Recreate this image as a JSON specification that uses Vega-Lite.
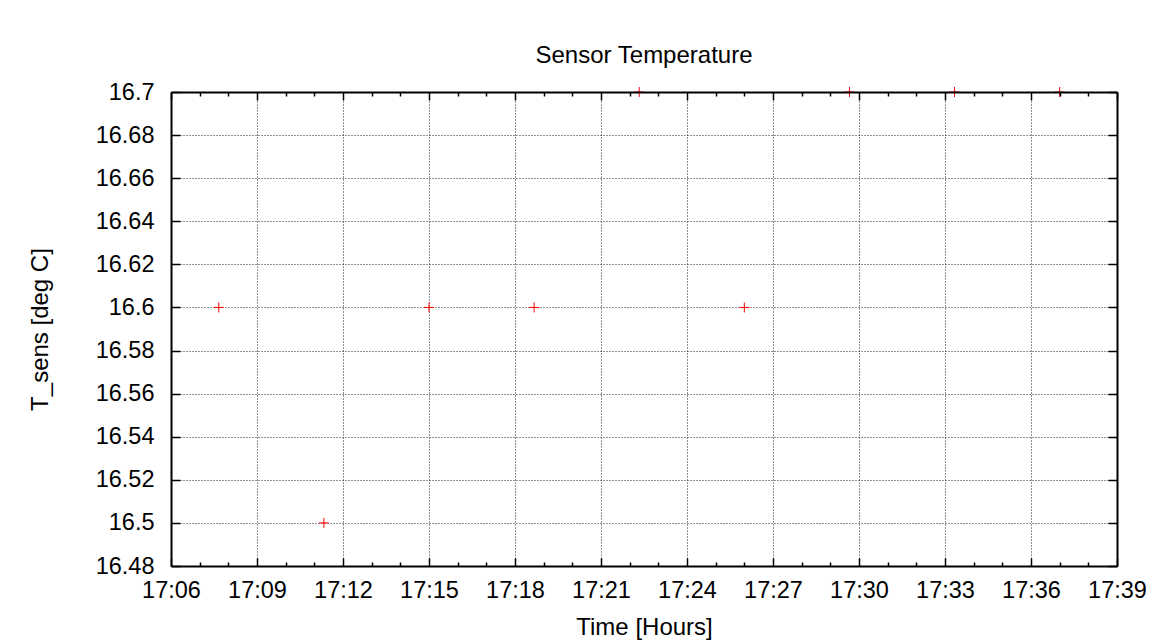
{
  "$schema": "https://vega.github.io/schema/vega-lite/v6.json",
  "autosize": "none",
  "width": 946,
  "height": 474,
  "padding": {"left": 171, "top": 92, "right": 50, "bottom": 77},
  "background": "white",
  "title": {
    "text": "Sensor Temperature",
    "font": "Liberation Sans",
    "fontSize": 24,
    "fontWeight": "normal",
    "color": "black",
    "frame": "group",
    "anchor": "middle",
    "baseline": "alphabetic",
    "offset": -7
  },
  "config": {
    "view": {"stroke": null},
    "axis": {
      "labelFont": "Liberation Sans",
      "titleFont": "Liberation Sans",
      "labelFontSize": 23.5,
      "titleFontSize": 24,
      "titleFontWeight": "normal",
      "labelColor": "black",
      "titleColor": "black",
      "domainColor": "black",
      "domainWidth": 2,
      "tickColor": "black",
      "tickWidth": 1.5,
      "gridColor": "#000",
      "gridDash": [1, 2],
      "gridWidth": 1
    }
  },
  "data": {
    "values": [
      {"time": "2024-01-01 17:07:40", "temp": 16.6},
      {"time": "2024-01-01 17:11:20", "temp": 16.5},
      {"time": "2024-01-01 17:15:00", "temp": 16.6},
      {"time": "2024-01-01 17:18:40", "temp": 16.6},
      {"time": "2024-01-01 17:22:20", "temp": 16.7},
      {"time": "2024-01-01 17:26:00", "temp": 16.6},
      {"time": "2024-01-01 17:29:40", "temp": 16.7},
      {"time": "2024-01-01 17:33:20", "temp": 16.7},
      {"time": "2024-01-01 17:37:00", "temp": 16.7}
    ]
  },
  "resolve": {"axis": {"x": "independent", "y": "independent"}},
  "layer": [
    {
      "mark": {"type": "point", "shape": "M-1,0H1M0,-1V1", "filled": false, "stroke": "#ff0000", "strokeWidth": 1, "size": 100, "opacity": 1, "clip": false},
      "encoding": {
        "x": {
          "field": "time", "type": "temporal",
          "scale": {"domain": [
            {"year": 2024, "month": 1, "date": 1, "hours": 17, "minutes": 6},
            {"year": 2024, "month": 1, "date": 1, "hours": 17, "minutes": 39}
          ], "nice": false},
          "axis": {
            "orient": "bottom",
            "title": "Time [Hours]",
            "titlePadding": 10,
            "values": [
              {"year": 2024, "month": 1, "date": 1, "hours": 17, "minutes": 6},
              {"year": 2024, "month": 1, "date": 1, "hours": 17, "minutes": 7},
              {"year": 2024, "month": 1, "date": 1, "hours": 17, "minutes": 8},
              {"year": 2024, "month": 1, "date": 1, "hours": 17, "minutes": 9},
              {"year": 2024, "month": 1, "date": 1, "hours": 17, "minutes": 10},
              {"year": 2024, "month": 1, "date": 1, "hours": 17, "minutes": 11},
              {"year": 2024, "month": 1, "date": 1, "hours": 17, "minutes": 12},
              {"year": 2024, "month": 1, "date": 1, "hours": 17, "minutes": 13},
              {"year": 2024, "month": 1, "date": 1, "hours": 17, "minutes": 14},
              {"year": 2024, "month": 1, "date": 1, "hours": 17, "minutes": 15},
              {"year": 2024, "month": 1, "date": 1, "hours": 17, "minutes": 16},
              {"year": 2024, "month": 1, "date": 1, "hours": 17, "minutes": 17},
              {"year": 2024, "month": 1, "date": 1, "hours": 17, "minutes": 18},
              {"year": 2024, "month": 1, "date": 1, "hours": 17, "minutes": 19},
              {"year": 2024, "month": 1, "date": 1, "hours": 17, "minutes": 20},
              {"year": 2024, "month": 1, "date": 1, "hours": 17, "minutes": 21},
              {"year": 2024, "month": 1, "date": 1, "hours": 17, "minutes": 22},
              {"year": 2024, "month": 1, "date": 1, "hours": 17, "minutes": 23},
              {"year": 2024, "month": 1, "date": 1, "hours": 17, "minutes": 24},
              {"year": 2024, "month": 1, "date": 1, "hours": 17, "minutes": 25},
              {"year": 2024, "month": 1, "date": 1, "hours": 17, "minutes": 26},
              {"year": 2024, "month": 1, "date": 1, "hours": 17, "minutes": 27},
              {"year": 2024, "month": 1, "date": 1, "hours": 17, "minutes": 28},
              {"year": 2024, "month": 1, "date": 1, "hours": 17, "minutes": 29},
              {"year": 2024, "month": 1, "date": 1, "hours": 17, "minutes": 30},
              {"year": 2024, "month": 1, "date": 1, "hours": 17, "minutes": 31},
              {"year": 2024, "month": 1, "date": 1, "hours": 17, "minutes": 32},
              {"year": 2024, "month": 1, "date": 1, "hours": 17, "minutes": 33},
              {"year": 2024, "month": 1, "date": 1, "hours": 17, "minutes": 34},
              {"year": 2024, "month": 1, "date": 1, "hours": 17, "minutes": 35},
              {"year": 2024, "month": 1, "date": 1, "hours": 17, "minutes": 36},
              {"year": 2024, "month": 1, "date": 1, "hours": 17, "minutes": 37},
              {"year": 2024, "month": 1, "date": 1, "hours": 17, "minutes": 38},
              {"year": 2024, "month": 1, "date": 1, "hours": 17, "minutes": 39}
            ],
            "labelExpr": "minutes(datum.value) % 3 == 0 ? timeFormat(datum.value, '%H:%M') : ''",
            "labelPadding": 20,
            "labelOverlap": false,
            "labelFlush": false,
            "tickSize": {"condition": {"test": "minutes(datum.value) % 3 == 0", "value": -8}, "value": -4},
            "grid": true,
            "gridOpacity": {"condition": {"test": "minutes(datum.value) % 3 == 0 && minutes(datum.value) != 6 && minutes(datum.value) != 39", "value": 0.85}, "value": 0},
            "zindex": 0
          }
        },
        "y": {
          "field": "temp", "type": "quantitative",
          "scale": {"domain": [16.48, 16.7], "nice": false, "zero": false},
          "axis": {
            "orient": "left",
            "title": "T_sens [deg C]",
            "titlePadding": 43,
            "values": [16.48, 16.5, 16.52, 16.54, 16.56, 16.58, 16.6, 16.62, 16.64, 16.66, 16.68, 16.7],
            "format": ".2~f",
            "labelPadding": 26,
            "labelOverlap": false,
            "labelFlush": false,
            "tickSize": -9,
            "grid": true,
            "gridOpacity": {"condition": {"test": "datum.value > 16.485 && datum.value < 16.695", "value": 0.85}, "value": 0},
            "zindex": 0
          }
        }
      }
    },
    {
      "mark": {"type": "point", "opacity": 0},
      "encoding": {
        "x": {
          "field": "time", "type": "temporal",
          "axis": {
            "orient": "top",
            "title": null,
            "labels": false,
            "grid": false,
            "values": [
              {"year": 2024, "month": 1, "date": 1, "hours": 17, "minutes": 6},
              {"year": 2024, "month": 1, "date": 1, "hours": 17, "minutes": 7},
              {"year": 2024, "month": 1, "date": 1, "hours": 17, "minutes": 8},
              {"year": 2024, "month": 1, "date": 1, "hours": 17, "minutes": 9},
              {"year": 2024, "month": 1, "date": 1, "hours": 17, "minutes": 10},
              {"year": 2024, "month": 1, "date": 1, "hours": 17, "minutes": 11},
              {"year": 2024, "month": 1, "date": 1, "hours": 17, "minutes": 12},
              {"year": 2024, "month": 1, "date": 1, "hours": 17, "minutes": 13},
              {"year": 2024, "month": 1, "date": 1, "hours": 17, "minutes": 14},
              {"year": 2024, "month": 1, "date": 1, "hours": 17, "minutes": 15},
              {"year": 2024, "month": 1, "date": 1, "hours": 17, "minutes": 16},
              {"year": 2024, "month": 1, "date": 1, "hours": 17, "minutes": 17},
              {"year": 2024, "month": 1, "date": 1, "hours": 17, "minutes": 18},
              {"year": 2024, "month": 1, "date": 1, "hours": 17, "minutes": 19},
              {"year": 2024, "month": 1, "date": 1, "hours": 17, "minutes": 20},
              {"year": 2024, "month": 1, "date": 1, "hours": 17, "minutes": 21},
              {"year": 2024, "month": 1, "date": 1, "hours": 17, "minutes": 22},
              {"year": 2024, "month": 1, "date": 1, "hours": 17, "minutes": 23},
              {"year": 2024, "month": 1, "date": 1, "hours": 17, "minutes": 24},
              {"year": 2024, "month": 1, "date": 1, "hours": 17, "minutes": 25},
              {"year": 2024, "month": 1, "date": 1, "hours": 17, "minutes": 26},
              {"year": 2024, "month": 1, "date": 1, "hours": 17, "minutes": 27},
              {"year": 2024, "month": 1, "date": 1, "hours": 17, "minutes": 28},
              {"year": 2024, "month": 1, "date": 1, "hours": 17, "minutes": 29},
              {"year": 2024, "month": 1, "date": 1, "hours": 17, "minutes": 30},
              {"year": 2024, "month": 1, "date": 1, "hours": 17, "minutes": 31},
              {"year": 2024, "month": 1, "date": 1, "hours": 17, "minutes": 32},
              {"year": 2024, "month": 1, "date": 1, "hours": 17, "minutes": 33},
              {"year": 2024, "month": 1, "date": 1, "hours": 17, "minutes": 34},
              {"year": 2024, "month": 1, "date": 1, "hours": 17, "minutes": 35},
              {"year": 2024, "month": 1, "date": 1, "hours": 17, "minutes": 36},
              {"year": 2024, "month": 1, "date": 1, "hours": 17, "minutes": 37},
              {"year": 2024, "month": 1, "date": 1, "hours": 17, "minutes": 38},
              {"year": 2024, "month": 1, "date": 1, "hours": 17, "minutes": 39}
            ],
            "tickSize": {"condition": {"test": "minutes(datum.value) % 3 == 0", "value": -8}, "value": -4},
            "zindex": 1
          }
        },
        "y": {
          "field": "temp", "type": "quantitative",
          "axis": {
            "orient": "right",
            "title": null,
            "labels": false,
            "grid": false,
            "values": [16.48, 16.5, 16.52, 16.54, 16.56, 16.58, 16.6, 16.62, 16.64, 16.66, 16.68, 16.7],
            "tickSize": -9,
            "zindex": 1
          }
        }
      }
    }
  ]
}
